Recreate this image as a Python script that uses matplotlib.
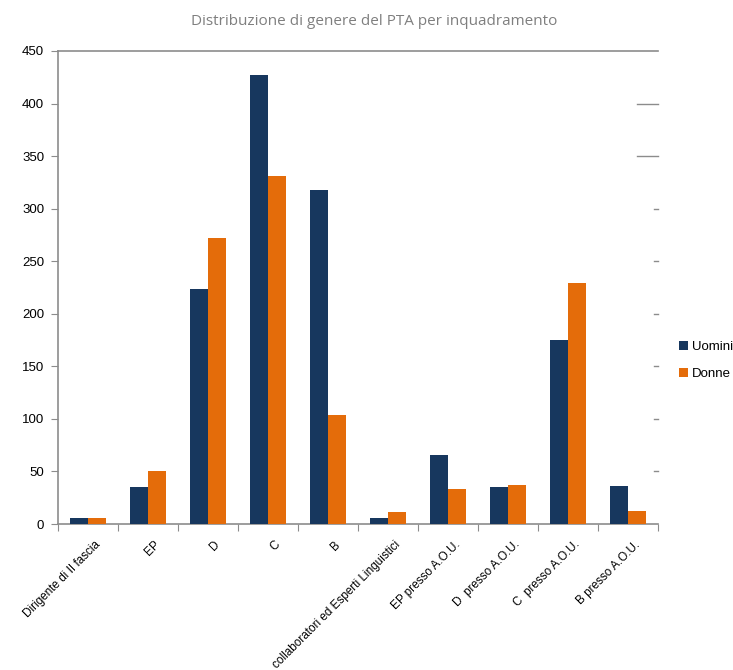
import numpy as np
import matplotlib.pyplot as plt

categorie = ["Dirigente di II fascia", "EP", "D", "C", "B",
             "collaboratori ed Esperti Linguistici", "EP presso A.O.U.",
             "D  presso A.O.U.", "C  presso A.O.U.", "B presso A.O.U."]
uomini = [6, 35, 224, 427, 318, 6, 66, 35, 175, 36]
donne = [6, 50, 272, 331, 104, 11, 33, 37, 229, 12]
y_ticks = [0, 50, 100, 150, 200, 250, 300, 350, 400, 450]

blu = "#17375E"
arancio = "#E46C0A"
grigio = "#8C8C8C"

plt.rcParams['font.family'] = ['Liberation Sans', 'DejaVu Sans']

fig = plt.figure(figsize=(7.33, 6.70), dpi=100)
ax = fig.add_axes([0.0791, 0.2179, 0.8186, 0.706])

x = np.arange(len(categorie))
w = 0.3
ax.bar(x - w / 2, uomini, w, color=blu, label="Uomini", zorder=3)
ax.bar(x + w / 2, donne, w, color=arancio, label="Donne", zorder=3)

ax.set_xlim(-0.5, len(categorie) - 0.5)
ax.set_ylim(0, 450)
ax.set_yticks(y_ticks)
ax.tick_params(axis='y', labelsize=9.5, length=5, color=grigio, pad=5)

# category boundaries carry the ticks, labels sit at the centres
ax.set_xticks(np.arange(len(categorie) + 1) - 0.5)
ax.set_xticklabels([])
ax.tick_params(axis='x', length=5, color=grigio)
for xi, lab in zip(x, categorie):
    ax.text(xi + 0.1, -14, lab, rotation=45, ha='right', va='top',
            rotation_mode='anchor', fontsize=8.5)

for side in ['left', 'bottom', 'top']:
    ax.spines[side].set_color(grigio)
    ax.spines[side].set_linewidth(1.2)
ax.spines['right'].set_visible(False)

# short marks on the right edge
for v in y_ticks[1:-1]:
    length = 0.35 if v in (350, 400) else 0.07
    ax.plot([len(categorie) - 0.5 - length, len(categorie) - 0.5], [v, v],
            color=grigio, lw=1.0, clip_on=False, zorder=2)

fig.text(0.51, 0.968, "Distribuzione di genere del PTA per inquadramento",
         ha='center', va='center', fontsize=11, color="#7F7F7F",
         family=['Open Sans', 'DejaVu Sans'])

leg = ax.legend(loc='center left', bbox_to_anchor=(1.024, 0.346), frameon=False,
                fontsize=9.5, handlelength=0.7, handleheight=0.7,
                handletextpad=0.3, labelspacing=1.1, borderpad=0)

fig.savefig("out.png", dpi=100)
